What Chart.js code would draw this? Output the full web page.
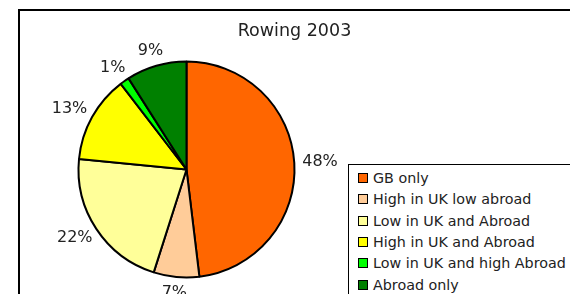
<!DOCTYPE html>
<html>
<head>
<meta charset="utf-8">
<script src="https://cdn.jsdelivr.net/npm/chart.js@4/dist/chart.umd.min.js"></script>
<style>
  body { margin: 0; background: #fff; font-family: "DejaVu Sans", Verdana, sans-serif; color: #222; }
  #wrap { position: relative; width: 570px; height: 294px; overflow: hidden; }
  #frame { position: absolute; left: 18px; top: 9px; width: 700px; height: 400px; border: 2px solid #000; }
  #title { position: absolute; left: 0; width: 589px; top: 20px; text-align: center; font-size: 17.5px; }
  #legend { position: absolute; left: 348px; top: 164px; width: 300px; height: 200px; border: 1px solid #000; background: #fff; }
  #legend div { position: absolute; left: 9px; font-size: 14.3px; white-space: nowrap; line-height: 16px; }
  #legend span { display: inline-block; width: 8px; height: 8px; border: 1px solid #000; margin-right: 5px; vertical-align: 0px; }
  canvas { position: absolute; left: 0; top: 0; }
</style>
</head>
<body>
<div id="wrap">
  <div id="frame"></div>
  <canvas id="rowingChart" width="570" height="294"></canvas>
  <div id="title"></div>
  <div id="legend"></div>
</div>
<script>
const title = "Rowing 2003";
const categories = ["GB only", "High in UK low abroad", "Low in UK and Abroad", "High in UK and Abroad", "Low in UK and high Abroad", "Abroad only"];
const shares = [48.0, 6.8, 21.6, 13.0, 1.4, 9.0];
const colours = ["#FF6600", "#FFCC99", "#FFFF99", "#FFFF00", "#00FF00", "#008000"];

document.getElementById("title").textContent = title;

// legend built from the same arrays
const legend = document.getElementById("legend");
categories.forEach((name, i) => {
  const row = document.createElement("div");
  row.style.top = (5 + i * 21.3) + "px";
  row.innerHTML = `<span style="background:${colours[i]}"></span>${name}`;
  legend.appendChild(row);
});

// percentage labels outside each slice
const outsideLabels = {
  id: "outsideLabels",
  afterDatasetsDraw(chart) {
    const ctx = chart.ctx;
    const meta = chart.getDatasetMeta(0);
    const total = shares.reduce((a, b) => a + b, 0);
    ctx.save();
    ctx.font = "16px 'DejaVu Sans'";
    ctx.fillStyle = "#222";
    ctx.textAlign = "center";
    ctx.textBaseline = "middle";
    meta.data.forEach((arc, i) => {
      const p = arc.getProps(["x", "y", "startAngle", "endAngle", "outerRadius"], true);
      const mid = (p.startAngle + p.endAngle) / 2;
      const text = Math.round(shares[i] / total * 100) + "%";
      const w = ctx.measureText(text).width;
      const r = p.outerRadius + 8;
      const cx = p.x + Math.cos(mid) * r + Math.cos(mid) * w / 2;
      const cy = p.y + Math.sin(mid) * r + Math.sin(mid) * 8;
      ctx.fillText(text, cx, cy);
    });
    ctx.restore();
  }
};

const ctx = document.getElementById("rowingChart").getContext("2d");
new Chart(ctx, {
  type: "pie",
  data: {
    labels: categories,
    datasets: [{
      data: shares,
      backgroundColor: colours,
      borderColor: "#000",
      borderWidth: 2
    }]
  },
  options: {
    responsive: false,
    animation: false,
    radius: 108,
    layout: { padding: { left: 0, right: 197, top: 45, bottom: 0 } },
    plugins: {
      legend: { display: false },
      tooltip: { enabled: false }
    }
  },
  plugins: [outsideLabels]
});
</script>
</body>
</html>
